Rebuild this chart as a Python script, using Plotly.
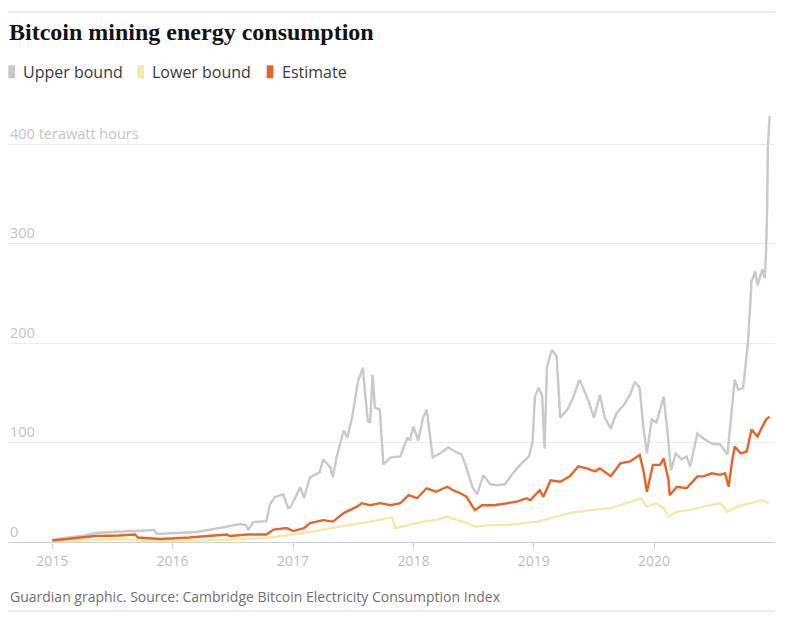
import pandas as pd
import plotly.graph_objects as go

# ---- data (decimal years, terawatt hours) ----
upper_t = [2015.00, 2015.10, 2015.25, 2015.36, 2015.50, 2015.67, 2015.85, 2015.87, 2016.00, 2016.20,
           2016.41, 2016.56, 2016.61, 2016.63, 2016.67, 2016.78, 2016.81, 2016.85, 2016.92, 2016.96,
           2016.98, 2017.06, 2017.09, 2017.14, 2017.22, 2017.25, 2017.31, 2017.33, 2017.36, 2017.42,
           2017.45, 2017.49, 2017.54, 2017.58, 2017.59, 2017.62, 2017.64, 2017.66, 2017.68, 2017.72,
           2017.75, 2017.81, 2017.89, 2017.95, 2017.97, 2018.00, 2018.04, 2018.08, 2018.11, 2018.16,
           2018.22, 2018.29, 2018.36, 2018.40, 2018.44, 2018.49, 2018.53, 2018.58, 2018.64, 2018.69,
           2018.76, 2018.82, 2018.89, 2018.96, 2018.99, 2019.01, 2019.04, 2019.07, 2019.09, 2019.11,
           2019.15, 2019.19, 2019.22, 2019.28, 2019.33, 2019.38, 2019.41, 2019.46, 2019.50, 2019.55,
           2019.59, 2019.64, 2019.69, 2019.75, 2019.80, 2019.84, 2019.88, 2019.91, 2019.94, 2019.98,
           2020.02, 2020.08, 2020.11, 2020.14, 2020.18, 2020.23, 2020.27, 2020.30, 2020.36, 2020.41,
           2020.48, 2020.55, 2020.61, 2020.65, 2020.67, 2020.70, 2020.74, 2020.78, 2020.81, 2020.84,
           2020.86, 2020.90, 2020.92, 2020.93, 2020.94, 2020.945, 2020.96]
upper_v = [2, 4, 6, 9, 10, 11, 12, 8, 8.5, 10,
           14.5, 18, 17, 12, 20, 21, 38, 45, 48, 34,
           35, 55, 44, 65, 70, 83, 75, 65, 85, 112,
           105, 125, 162, 175, 160, 122, 120, 168, 135, 133,
           78, 85, 86, 105, 102, 116, 102, 125, 133, 85,
           89, 95, 90, 88, 75, 55, 48, 67, 58, 57,
           58, 68, 78, 86, 101, 146, 155, 147, 94, 176,
           193, 187, 125, 133, 146, 163, 155, 140, 125, 148,
           125, 114, 130, 138, 148, 161, 155, 116, 89, 123,
           120, 146, 113, 72, 89, 83, 86, 76, 109, 104,
           99, 98, 88, 140, 163, 153, 155, 200, 262, 272,
           258, 274, 265, 290, 337, 395, 428]

estimate_t = [2015.00, 2015.20, 2015.36, 2015.55, 2015.69, 2015.71, 2015.90, 2016.14, 2016.45, 2016.48,
              2016.62, 2016.78, 2016.84, 2016.95, 2017.00, 2017.09, 2017.14, 2017.25, 2017.33, 2017.42,
              2017.53, 2017.57, 2017.64, 2017.72, 2017.81, 2017.89, 2017.96, 2018.03, 2018.11, 2018.19,
              2018.28, 2018.33, 2018.39, 2018.44, 2018.51, 2018.57, 2018.67, 2018.78, 2018.86, 2018.94,
              2018.97, 2019.05, 2019.08, 2019.14, 2019.22, 2019.30, 2019.37, 2019.44, 2019.51, 2019.55,
              2019.64, 2019.72, 2019.80, 2019.88, 2019.91, 2019.94, 2019.99, 2020.05, 2020.08, 2020.12,
              2020.13, 2020.19, 2020.27, 2020.36, 2020.41, 2020.48, 2020.55, 2020.59, 2020.62, 2020.65,
              2020.67, 2020.72, 2020.77, 2020.81, 2020.86, 2020.90, 2020.93, 2020.96]
estimate_v = [1.5, 4, 6, 6.5, 7.5, 4.5, 3, 4.5, 7.5, 6,
              7.5, 7.5, 12.5, 14, 11, 14, 19, 22, 20.5, 29,
              35.5, 39, 37, 39, 37, 39, 47, 44, 54, 50.5,
              55.5, 52, 49, 45.5, 32, 37, 37, 39, 40.5, 44,
              42, 52, 45.5, 62, 60.5, 66, 76, 74, 71, 74,
              66, 79, 81, 87.5, 72.5, 50.5, 77.5, 77.5, 84, 62.5,
              47, 55.5, 54, 66, 66, 69, 67.5, 69, 55.5, 82.5,
              96, 89, 91, 113, 106, 116, 123, 126]

lower_t = [2015.00, 2015.30, 2015.60, 2015.75, 2016.00, 2016.40, 2016.70, 2016.85, 2016.98, 2017.14,
           2017.31, 2017.48, 2017.64, 2017.79, 2017.82, 2017.85, 2017.95, 2018.08, 2018.19, 2018.28,
           2018.36, 2018.44, 2018.51, 2018.64, 2018.78, 2018.92, 2019.03, 2019.14, 2019.30, 2019.47,
           2019.64, 2019.77, 2019.89, 2019.94, 2020.02, 2020.08, 2020.12, 2020.19, 2020.30, 2020.41,
           2020.55, 2020.61, 2020.69, 2020.85, 2020.90, 2020.95]
lower_v = [0.5, 2, 3, 1, 1, 2, 3.5, 5, 7, 10,
           14, 17, 20.5, 24, 25, 14, 17, 20.5, 22, 25.5,
           22, 19.5, 15.5, 17, 17, 19, 20.5, 24, 29, 32,
           34, 39, 44, 35.5, 39, 34, 25.5, 30.5, 32, 35.5,
           39, 30.5, 35.5, 40.5, 42, 39]

series_names = ["Upper bound", "Lower bound", "Estimate"]
y_tick_vals = [0, 100, 200, 300, 400]
y_tick_text = ["0", "100", "200", "300", "400 terawatt hours"]
x_tick_vals = ["2015-01-01", "2016-01-01", "2017-01-01", "2018-01-01", "2019-01-01", "2020-01-01"]
x_tick_text = ["2015", "2016", "2017", "2018", "2019", "2020"]

title_text = "Bitcoin mining energy consumption"
source_text = "Guardian graphic. Source: Cambridge Bitcoin Electricity Consumption Index"


def to_dates(years):
    out = []
    for y in years:
        base = int(y)
        out.append(pd.Timestamp(base, 1, 1) + pd.Timedelta(days=(y - base) * 365.25))
    return out


GREY = "#c9c9c9"
YELLOW = "#f3eaa6"
ORANGE = "#e4652a"
colors = [GREY, YELLOW, ORANGE]
FONT = "Open Sans"

# layout geometry (pixels)
W, H = 800, 621
L, R, T, B = 8, 25, 104, 79
PW, PH = W - L - R, H - T - B
Y_RANGE = [0, 440.2]


def px2x(px):
    return (px - L) / PW


def px2y(py):
    return (H - B - py) / PH


fig = go.Figure()

series = [(upper_t, upper_v), (lower_t, lower_v), (estimate_t, estimate_v)]
for (t, v), col, name in zip(series, colors, series_names):
    fig.add_trace(go.Scatter(x=to_dates(t), y=v, mode="lines", name=name,
                             line=dict(color=col, width=2.4), showlegend=False))

shapes = [
    dict(type="line", xref="paper", yref="paper", x0=0, x1=1,
         y0=px2y(12), y1=px2y(12), line=dict(color="#dcdcdc", width=1)),
    dict(type="line", xref="paper", yref="paper", x0=0, x1=1,
         y0=px2y(611), y1=px2y(611), line=dict(color="#dcdcdc", width=1)),
]
annotations = [
    dict(text="<b>" + title_text + "</b>", xref="paper", yref="paper",
         x=px2x(7), y=px2y(32), xanchor="left", yanchor="middle",
         showarrow=False, font=dict(family="Liberation Serif", size=24, color="#121212")),
    dict(text=source_text, xref="paper", yref="paper",
         x=0, y=px2y(596), xanchor="left", yanchor="middle",
         showarrow=False, font=dict(family=FONT, size=14, color="#707070")),
]

# value-axis labels, sitting on top of their gridlines
for val, txt in zip(y_tick_vals, y_tick_text):
    annotations.append(dict(text=txt, xref="paper", yref="y", x=0, y=val,
                            xanchor="left", yanchor="middle", yshift=11,
                            showarrow=False,
                            font=dict(family=FONT, size=14.5, color="#c4c4c4")))

# legend (key swatches + labels)
legend_sw_x = [8.3, 137.3, 266.7]
legend_tx_x = [21.0, 150.0, 279.5]
for name, col, sx, tx in zip(series_names, colors, legend_sw_x, legend_tx_x):
    shapes.append(dict(type="rect", xref="paper", yref="paper",
                       x0=px2x(sx), x1=px2x(sx + 6.7), y0=px2y(78.3), y1=px2y(65.3),
                       fillcolor=col, line=dict(width=0)))
    annotations.append(dict(text=name, xref="paper", yref="paper",
                            x=px2x(tx), y=px2y(72), xanchor="left", yanchor="middle",
                            showarrow=False,
                            font=dict(family=FONT, size=16, color="#3a3a3a")))

fig.update_layout(
    width=W, height=H,
    margin=dict(l=L, r=R, t=T, b=B, autoexpand=False),
    paper_bgcolor="white", plot_bgcolor="white",
    font=dict(family=FONT, color="#bdbdbd", size=14),
    showlegend=False,
    xaxis=dict(type="date", range=["2014-08-20", "2021-01-02"],
               tickvals=x_tick_vals, ticktext=x_tick_text,
               showgrid=False, zeroline=False,
               showline=True, linecolor="#cfd1d8", linewidth=1,
               ticks="outside", ticklen=6, tickcolor="#cfd1d8",
               tickfont=dict(family=FONT, size=14, color="#bdbdbd")),
    yaxis=dict(range=Y_RANGE, tickvals=y_tick_vals, showticklabels=False,
               showgrid=True, gridcolor="#ececec",
               gridwidth=1, zeroline=False, showline=False, ticks=""),
    shapes=shapes,
    annotations=annotations,
)

fig.write_html("out.html", config={"displayModeBar": False},
               post_script="document.body.style.margin='0';document.body.style.overflow='hidden';")
